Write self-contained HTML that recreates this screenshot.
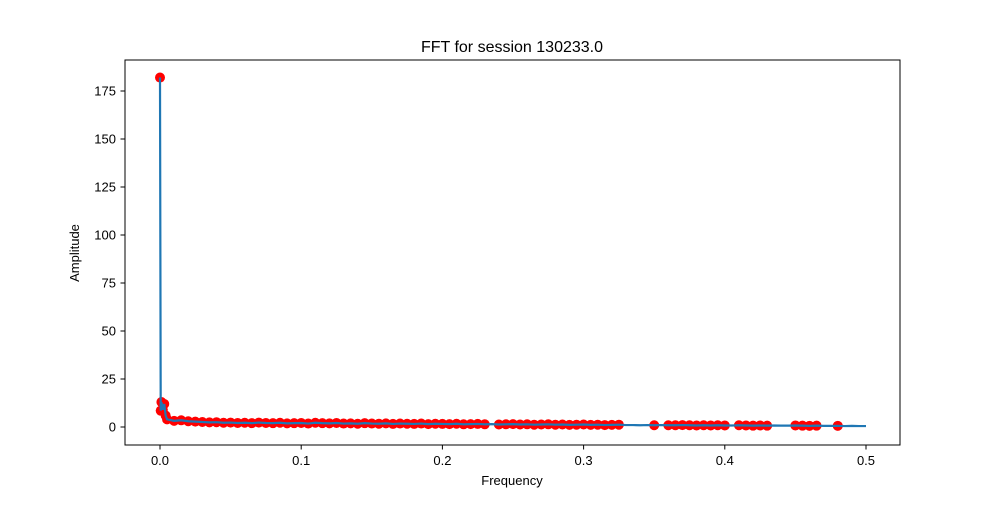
<!DOCTYPE html>
<html><head><meta charset="utf-8"><style>
body{margin:0;background:#fff;}
svg text{font-family:"Liberation Sans","DejaVu Sans",sans-serif;fill:#000;}
</style></head><body>
<svg id="chart" width="1000" height="500" xmlns="http://www.w3.org/2000/svg">
<rect x="0" y="0" width="1000" height="500" fill="#fff"/>
<text x="512" y="52" font-size="16" text-anchor="middle">FFT for session 130233.0</text>
<g id="plot"></g>
<rect x="125" y="60" width="775" height="385" fill="none" stroke="#000" stroke-width="1"/>
<g id="axes"></g>
<text x="512" y="485" font-size="13" text-anchor="middle">Frequency</text>
<text x="79" y="253" font-size="13" text-anchor="middle" transform="rotate(-90 79 253)">Amplitude</text>
</svg>
<script>
const headFreqs=[0,0.0005,0.001,0.002,0.003,0.004];
const headAmps=[182,8.5,13,9,12,6];
const headRed=[1,1,1,1,1,1];
const stepAmps=[4,3.2,3.5,3,2.8,2.6,2.4,2.5,2.2,2.3,2.1,2.2,2,2.3,2.1,2,2.2,1.9,2,2.1,1.8,2.2,2,1.9,2.1,1.8,1.9,1.7,2,1.8,1.7,1.9,1.6,1.8,1.7,1.6,1.8,1.5,1.7,1.6,1.5,1.7,1.4,1.5,1.6,1.4,1.5,1.3,1.4,1.5,1.3,1.4,1.2,1.3,1.4,1.2,1.3,1.1,1.2,1.3,1.1,1.2,1,1.1,1.2,1,1,0.9,1,0.9,1,0.9,0.9,1,0.9,0.8,0.9,0.8,0.9,0.8,0.8,0.9,0.8,0.7,0.8,0.7,0.8,0.7,0.7,0.8,0.7,0.6,0.7,0.6,0.6,0.6,0.5,0.6,0.5,0.5];
const stepRed=[1,1,1,1,1,1,1,1,1,1,1,1,1,1,1,1,1,1,1,1,1,1,1,1,1,1,1,1,1,1,1,1,1,1,1,1,1,1,1,1,1,1,1,1,1,1,0,1,1,1,1,1,1,1,1,1,1,1,1,1,1,1,1,1,1,0,0,0,0,1,0,1,1,1,1,1,1,1,1,1,0,1,1,1,1,1,0,0,0,1,1,1,1,0,0,1,0,0,0,0];
const xTicks=[0,0.1,0.2,0.3,0.4,0.5];
const yTicks=[0,25,50,75,100,125,150,175];
const X=f=>160+f*1412, Y=a=>427-a*1.92;
const NS="http://www.w3.org/2000/svg";
const freqs=[...headFreqs],amps=[...headAmps],red=[...headRed];
stepAmps.forEach((a,i)=>{freqs.push(0.005*(i+1));amps.push(a);red.push(stepRed[i]);});
const plot=document.getElementById('plot'),axes=document.getElementById('axes');
freqs.forEach((f,i)=>{if(!red[i])return;
 const c=document.createElementNS(NS,'circle');
 c.setAttribute('cx',X(f));c.setAttribute('cy',Y(amps[i]));c.setAttribute('r',5);c.setAttribute('fill','#ff0000');
 
 
 plot.appendChild(c);});
const p=document.createElementNS(NS,'polyline');
p.setAttribute('points',freqs.map((f,i)=>X(f)+','+Y(amps[i])).join(' '));
p.setAttribute('fill','none');p.setAttribute('stroke','#1f77b4');p.setAttribute('stroke-width','2.2');


plot.appendChild(p);
xTicks.forEach(t=>{const x=X(t);
 const l=document.createElementNS(NS,'line');l.setAttribute('x1',x);l.setAttribute('x2',x);l.setAttribute('y1',445);l.setAttribute('y2',449.5);l.setAttribute('stroke','#000');
 
 
 axes.appendChild(l);
 const tx=document.createElementNS(NS,'text');tx.setAttribute('x',x);tx.setAttribute('y',465);tx.setAttribute('font-size','13');tx.setAttribute('text-anchor','middle');tx.textContent=t.toFixed(1);
 
 
 axes.appendChild(tx);});
yTicks.forEach(t=>{const y=Y(t);
 const l=document.createElementNS(NS,'line');l.setAttribute('x1',120.5);l.setAttribute('x2',125);l.setAttribute('y1',y);l.setAttribute('y2',y);l.setAttribute('stroke','#000');
 
 
 axes.appendChild(l);
 const tx=document.createElementNS(NS,'text');tx.setAttribute('x',116);tx.setAttribute('y',y+4.5);tx.setAttribute('font-size','13');tx.setAttribute('text-anchor','end');tx.textContent=t;
 
 
 axes.appendChild(tx);});
</script>
</body></html>
